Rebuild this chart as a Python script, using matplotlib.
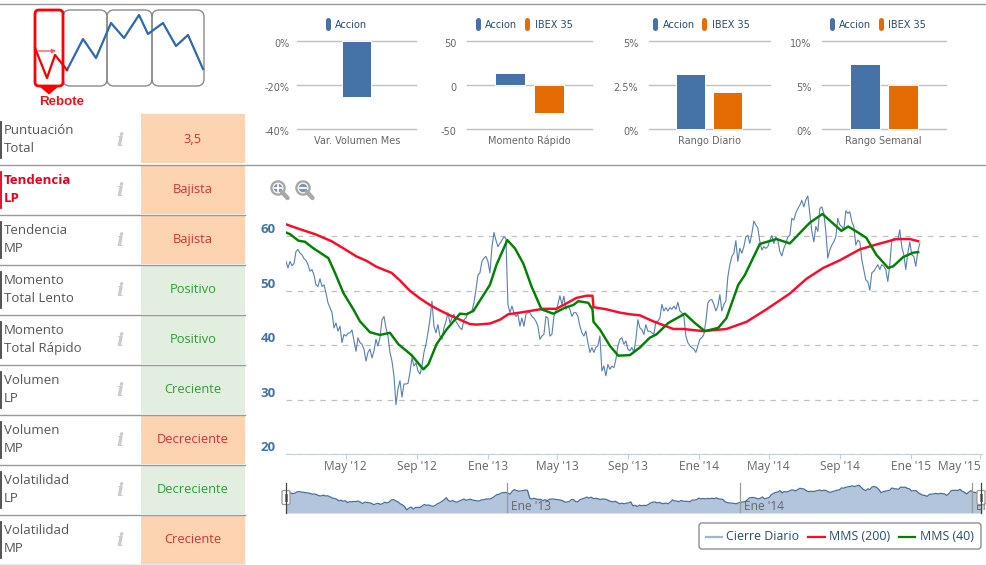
import matplotlib
matplotlib.use("Agg")
import matplotlib.pyplot as plt
import matplotlib.dates as mdates
from matplotlib.patches import FancyBboxPatch, Rectangle, Circle, Polygon
from matplotlib.transforms import ScaledTranslation
import datetime as dt

W, H = 987, 565
START = dt.datetime(2012, 1, 19)
STEP_DAYS = 3.45

close_values = [
 55.4,54.2,55.4,54.6,55.0,57.2,57.6,56.9,56.6,55.9,55.6,54.8,53.6,53.9,52.9,51.1,50.8,52.2,50.8,51.1,
 49.6,47.8,46.9,46.0,43.2,44.1,42.6,43.5,40.5,42.0,41.7,42.2,42.3,42.8,40.8,38.9,41.4,40.5,40.2,39.3,
 37.1,38.7,39.3,37.7,38.9,41.1,39.9,41.4,44.7,45.3,43.2,41.7,38.7,37.1,34.4,29.1,32.0,33.5,30.5,32.9,
 32.9,33.0,35.0,37.7,36.2,36.8,35.3,34.7,36.2,38.7,40.2,42.3,44.7,48.1,43.5,42.3,43.8,41.7,41.1,43.2,
 44.4,46.0,44.1,45.0,45.7,44.4,43.8,43.2,42.9,44.7,45.0,46.0,46.0,46.3,47.8,50.2,52.9,53.3,55.4,56.0,
 56.3,55.4,53.3,58.0,60.7,59.3,58.1,58.7,59.3,59.9,59.6,47.5,46.0,47.2,46.0,45.3,45.7,43.5,45.0,43.5,
 45.7,46.0,46.0,45.3,45.0,44.4,43.5,41.1,41.7,42.0,45.3,45.0,41.7,42.0,45.3,46.3,47.5,49.1,47.5,49.0,
 46.6,47.2,46.6,45.3,46.0,46.0,45.3,43.5,42.3,41.7,42.6,40.5,38.7,39.6,38.7,39.6,39.9,41.7,35.3,36.2,
 34.4,36.5,35.6,36.2,35.9,37.4,39.9,41.1,41.4,40.2,40.8,39.3,39.0,39.6,38.7,41.1,44.7,43.2,42.9,42.0,
 43.8,42.6,42.6,42.3,42.0,44.4,44.4,45.0,47.5,46.3,46.9,46.3,46.9,46.6,47.2,46.6,47.9,46.3,46.0,45.3,
 41.7,40.5,39.9,39.6,39.3,38.7,39.9,41.1,41.4,42.0,44.4,47.8,48.3,48.4,47.5,46.3,47.2,49.3,46.3,47.5,
 48.1,52.6,54.8,56.3,56.9,59.2,55.4,57.8,56.9,58.1,59.9,60.2,58.7,60.5,62.8,62.1,61.5,59.0,57.5,58.1,
 57.8,58.1,59.3,60.1,58.7,59.9,59.3,57.2,56.4,57.8,58.7,59.9,60.2,63.3,63.0,64.3,65.1,65.7,66.6,65.4,
 66.7,67.4,64.2,60.9,59.0,61.8,60.9,65.1,65.4,64.2,60.9,56.0,57.5,58.4,59.0,59.9,63.3,62.1,61.8,61.2,
 64.7,64.2,64.5,62.7,61.8,58.4,59.3,59.0,55.7,53.9,52.0,51.7,50.1,53.3,53.6,54.2,54.8,53.9,54.8,54.5,
 53.9,51.7,54.8,59.3,59.6,59.6,59.3,61.2,58.1,56.6,53.9,56.9,59.0,56.6,56.3,54.5,57.2,58.7]

ma200_pos = [0,7,14.5,22.8,28.7,35.3,40.3,45.3,52.8,57,62,67,72,77,82,87,92,95.3,102,107,111.2,117,123.7,128.7,
             135.3,140.3,145.3,150.3,153.3,153.8,160.3,167,172,177,183.7,188.7,193.7,198.7,208.7,220.3,230.3,
             240.3,252,260.3,268.7,277,287,295.3,305.3,312,316.2]
ma200_values = [62.2,61.3,60.4,59.1,57.8,56.3,55.5,54.4,53.3,51.9,50.0,48.6,47.4,46.4,45.5,44.7,43.9,43.8,44.0,44.7,
                45.7,46.0,46.4,46.7,46.7,47.7,48.7,49.1,49.1,47.0,46.6,46.0,45.7,45.5,44.4,43.7,43.0,43.0,42.6,
                43.0,44.3,46.6,49.5,52.2,54.2,55.6,57.6,58.5,59.5,59.5,59.1]
ma40_pos = [0,2,6.2,9.5,13.7,21.2,24.5,28.7,33.7,37,42,47,52,56.2,62.8,68.7,71.2,75.3,80.3,87,90.3,93.7,102,105.3,
            110.7,114.5,118.7,122.8,127.8,133.7,139.5,143.7,146.2,151.2,153.3,153.8,157,162,166.2,172,177,182,
            185.3,191.2,199.5,204.5,209.5,216.2,220.3,226.2,229.5,237,245.3,252,262,268.3,277.8,281.2,287,290.3,
            295.3,301.2,303.7,308.7,313.7,316.2]
ma40_values = [60.7,60.4,59.2,59.0,57.8,56.0,53.3,49.6,46.6,44.4,42.4,41.9,42.3,40.2,38.2,35.6,36.5,40.2,42.9,45.8,
               45.7,46.3,51.1,54.8,59.3,57.8,55.0,50.8,46.6,45.8,46.9,47.4,48.1,47.8,46.6,44.3,42.9,39.9,38.1,38.2,
               39.6,41.4,42.0,44.1,45.8,44.1,42.6,43.2,45.0,51.1,52.9,58.6,59.5,58.7,62.5,64.1,61.0,61.8,60.5,59.7,
               56.6,54.2,54.5,56.2,57.0,57.1]

y_ticks = [20, 30, 40, 50, 60]
x_tick_dates = [(2012,5),(2012,9),(2013,1),(2013,5),(2013,9),(2014,1),(2014,5),(2014,9),(2015,1),(2015,5)]
x_tick_labels = ["May '12","Sep '12","Ene '13","May '13","Sep '13","Ene '14","May '14","Sep '14","Ene '15","May '15"]
nav_tick_dates = [(2013,1),(2014,1),(2015,1)]
nav_tick_labels = ["Ene '13","Ene '14","Ene '15"]

row_top = ["Puntuación","Tendencia","Tendencia","Momento","Momento","Volumen","Volumen","Volatilidad","Volatilidad"]
row_bottom = ["Total","LP","MP","Total Lento","Total Rápido","LP","MP","LP","MP"]
row_state = ["3,5","Bajista","Bajista","Positivo","Positivo","Creciente","Decreciente","Decreciente","Creciente"]
row_good = [False,False,False,True,True,True,False,True,False]

bar_names = ["Var. Volumen Mes","Momento Rápido","Rango Diario","Rango Semanal"]
bar_accion = [-25.3, 14, 3.14, 7.42]
bar_ibex = [None, -32, 2.12, 5.03]
bar_limits = [(-40,0),(-50,50),(0,5),(0,10)]
bar_ticks = [[-40,-20,0],[-50,0,50],[0,2.5,5],[0,5,10]]
bar_ticklabels = [["-40%","-20%","0%"],["-50","0","50"],["0%","2.5%","5%"],["0%","5%","10%"]]

trend_x = [67,83,96,111,124,139,148,163,176,188,203]
trend_y = [70,39,58,23,38,15,34,23,46,35,69]
rebound_x = [35,47,55,67]
rebound_y = [48,78,55,70]

BLUE = "#4572a7"; ORANGE = "#e56b05"; BAR_BLUE = "#4572a7"
TXT = "#666666"; NAVY = "#274b6d"; SANS = "Open Sans"
RED_TXT = "#d0323a"; GREEN_TXT = "#2e9e2e"

fig = plt.figure(figsize=(W/100, H/100), dpi=100, facecolor="white")

def px_axes(x0, y0, x1, y1, **kw):
    return fig.add_axes([x0/W, 1-y1/H, (x1-x0)/W, (y1-y0)/H], **kw)

def to_date(p):
    return mdates.date2num(START) + p*STEP_DAYS

close_x = [to_date(i) for i in range(len(close_values))]

# page layer
bg = px_axes(0, 0, W, H)
bg.set_xlim(0, W); bg.set_ylim(H, 0); bg.axis("off")

bg.plot([0, W], [3.5, 3.5], color="#999999", lw=1)
bg.plot([0, W], [164.5, 164.5], color="#999999", lw=1)
for r in range(9):
    top = 114 if r == 0 else 114.5 + 50*r + 0.5
    bottom = 162.5 if r == 0 else 164 + 50*r
    bg.add_patch(Rectangle((141, top), 104, bottom-top, fc="#e2efe0" if row_good[r] else "#fcd4b2", ec="none"))
    if r > 0:
        bg.plot([0, 245], [164.5+50*r, 164.5+50*r], color="#999999", lw=1)
    c = 139.5 + 50*r
    hot = r == 1
    bg.plot([0.7, 0.7], [c-18, c+18], color="#e2001a" if hot else "#444444", lw=1.3)
    for txt, yy in ((row_top[r], c-9), (row_bottom[r], c+9)):
        bg.text(4, yy, txt, fontsize=9.5, family=SANS, va="center", ha="left",
                color="#e2001a" if hot else "#555555", fontweight="bold" if hot else "normal")
    bg.text(120, c+1, "i", fontsize=13.5, family="DejaVu Serif", style="italic", fontweight="bold",
            color="#cccccc", ha="center", va="center")
    bg.text(193, c, row_state[r], fontsize=9.3, family=SANS, ha="center", va="center",
            color=GREEN_TXT if row_good[r] else RED_TXT)

# pattern sketch
for x0, x1 in ((63,107),(107,152),(152,204)):
    bg.add_patch(FancyBboxPatch((x0+7, 17), x1-x0-14, 62, boxstyle="round,pad=7,rounding_size=7", fc="none", ec="#8a8a8a", lw=1))
bg.plot(trend_x, trend_y, color="#2f69ad", lw=1.6)
bg.add_patch(FancyBboxPatch((39, 14), 20, 68, boxstyle="round,pad=4,rounding_size=4", fc="none", ec="#ff0000", lw=2))
bg.plot(rebound_x, rebound_y, color="#f00000", lw=1.6)
bg.annotate("", xy=(59, 51), xytext=(35, 51), arrowprops=dict(arrowstyle="-|>", color="#f06060", lw=1, mutation_scale=6))
bg.add_patch(Polygon([(40,87),(58,87),(49,94.5)], fc="#ff0000", ec="none"))
bg.text(61.7, 101.8, "Rebote", fontsize=9.6, family="Liberation Sans", fontweight="bold", color="#e8141c", ha="center", va="center")

# zoom icons
for cx, minus in ((278, False), (303, True)):
    bg.plot([cx+4, cx+9.5], [192, 198], color="#a8a8a8", lw=3.2, solid_capstyle="round")
    bg.add_patch(Circle((cx, 188), 6.6, fc="white", ec="#a8a8a8", lw=1.7))
    bg.add_patch(Circle((cx, 188), 4.2, fc="#7f93ab", ec="none"))
    bg.plot([cx-3, cx+3], [188, 188], color="white", lw=1.3)
    if not minus:
        bg.plot([cx, cx], [185, 191], color="white", lw=1.3)

# small bar charts
boxes = [(297,416),(467,592),(648.6,770),(821.7,945.7)]
for i, (x0, x1) in enumerate(boxes):
    ax = px_axes(x0, 41.3, x1, 129.3)
    ax.patch.set_alpha(0)
    ax.set_xlim(-0.5, 0.5); ax.set_ylim(*bar_limits[i])
    for s in ("top", "left", "right", "bottom"):
        ax.spines[s].set_visible(False)
    ax.set_yticks(bar_ticks[i])
    ax.set_yticklabels(bar_ticklabels[i], fontsize=7, family="DejaVu Sans", color=TXT)
    ax.tick_params(axis="y", length=0, pad=7.5 if i else 5.5)
    ax.set_xticks([])
    shift = ScaledTranslation(0, -2/100, fig.dpi_scale_trans)
    for lab in ax.get_yticklabels():
        lab.set_transform(lab.get_transform()+shift)
    ax.grid(axis="y", color="#c0c0c0", lw=1, clip_on=False)
    for gl in ax.get_ygridlines():
        gl.set_clip_on(False)
    ax.set_axisbelow(True)
    if bar_ibex[i] is None:
        ax.bar([0], [bar_accion[i]], width=0.245, color=BAR_BLUE, edgecolor="white", lw=0.7, clip_on=False)
    else:
        ax.bar([-0.153], [bar_accion[i]], width=0.24, color=BAR_BLUE, edgecolor="white", lw=0.7, clip_on=False)
        ax.bar([0.153], [bar_ibex[i]], width=0.24, color=ORANGE, edgecolor="white", lw=0.7, clip_on=False)
    bg.text((x0+x1)/2 + (1 if i == 0 else 0), 140.7, bar_names[i], fontsize=7, family="DejaVu Sans", color=TXT, ha="center", va="center")

legend_layout = [
    [(327.5, 335, "Accion", BAR_BLUE)],
    [(477.5, 485, "Accion", BAR_BLUE), (526.5, 535, "IBEX 35", ORANGE)],
    [(654.5, 662.5, "Accion", BAR_BLUE), (704, 712, "IBEX 35", ORANGE)],
    [(831.5, 839, "Accion", BAR_BLUE), (880.5, 888, "IBEX 35", ORANGE)],
]
for group in legend_layout:
    for sx, tx, label, col in group:
        bg.plot([sx, sx], [20, 28], color=col, lw=3.6, solid_capstyle="round")
        bg.text(tx, 25.5, label, fontsize=7, family="DejaVu Sans", color=NAVY, ha="left", va="center")

# main chart
main = px_axes(286, 190, 982, 454.3)
main.patch.set_alpha(0)
main.set_xlim(mdates.date2num(START), mdates.date2num(START)+1201)
main.set_ylim(20, 68.5)
for s in ("top", "left", "right"):
    main.spines[s].set_visible(False)
main.spines["bottom"].set_color("#c0d0e0")
main.set_yticks(y_ticks)
main.set_yticklabels([str(v) for v in y_ticks], fontsize=9.5, family=SANS, fontweight="bold", color=BLUE)
for lab in main.get_yticklabels():
    lab.set_va("bottom")
main.tick_params(axis="y", length=0, pad=7.5)
xt = [mdates.date2num(dt.datetime(y, m, 1)) for y, m in x_tick_dates]
main.set_xticks(xt)
main.set_xticklabels(x_tick_labels, fontsize=8.6, family=SANS, color=TXT)
main.tick_params(axis="x", length=3.6, width=0.8, color="#c0d0e0", pad=0.3)
main.get_xticklabels()[-1].set_ha("right")
main.grid(axis="y", color="#c0c0c0", lw=0.9, ls=(0, (4.5, 4.5)))
main.set_axisbelow(True)
main.plot(close_x, close_values, color=BLUE, lw=0.8, alpha=0.9, zorder=3)
main.plot([to_date(p) for p in ma200_pos], ma200_values, color="#ff0a28", lw=1.75, zorder=4)
main.plot([to_date(p) for p in ma40_pos], ma40_values, color="#008000", lw=1.75, zorder=5)

# navigator
nav = px_axes(286, 483, 982, 513)
nav.patch.set_alpha(0)
nav.set_xlim(close_x[0], close_x[-1])
nav.set_ylim(24.3, 71)
for s in nav.spines.values():
    s.set_visible(False)
nav.set_xticks([]); nav.set_yticks([])
nav.fill_between(close_x, close_values, 24.3, color="#b3c5dc", lw=0)
nav.plot(close_x, close_values, color="#4a6d9c", lw=0.9)
for (y, m), lab in zip(nav_tick_dates, nav_tick_labels):
    d = mdates.date2num(dt.datetime(y, m, 1))
    nav.axvline(d, color="#9a9a9a", lw=0.9)
    nav.annotate(lab, xy=(d, 24.3), xytext=(4, 7), textcoords="offset pixels", fontsize=8.6, family=SANS,
                 color=TXT, ha="left", va="center", annotation_clip=True).set_clip_on(True)

bg2 = px_axes(0, 0, W, H)
bg2.patch.set_alpha(0)
bg2.set_xlim(0, W); bg2.set_ylim(H, 0); bg2.axis("off")
for hx in (286, 981):
    bg2.plot([hx, hx], [483, 513], color="#444444", lw=0.9)
    bg2.add_patch(FancyBboxPatch((hx-2.5, 492), 5, 11, boxstyle="round,pad=1.5", fc="white", ec="#999999", lw=0.9))
    bg2.plot([hx-1, hx-1], [494, 501], color="#777777", lw=0.7)
    bg2.plot([hx+1, hx+1], [494, 501], color="#777777", lw=0.7)

# main legend
bg2.add_patch(FancyBboxPatch((702, 526), 276, 20, boxstyle="round,pad=3", fc="white", ec="#909090", lw=1))
items = [(705.7, 722, 726, "Cierre Diario", "#a0b5d0"),
         (808, 824.5, 829, "MMS (200)", "#ff0a28"),
         (899, 915, 920, "MMS (40)", "#008000")]
for a, b, tx, label, col in items:
    bg2.plot([a, b], [537, 537], color=col, lw=1.6)
    bg2.text(tx, 536.5, label, fontsize=8.9, family=SANS, color=NAVY, ha="left", va="center")

fig.savefig("out.png", dpi=100)
